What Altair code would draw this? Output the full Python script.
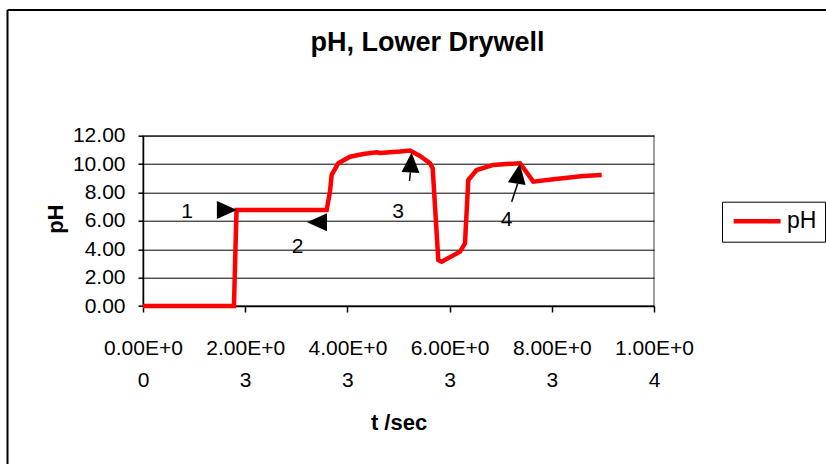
import altair as alt
import pandas as pd

# ---- data ----
t_sec = [0, 1780, 1830, 2500, 3000, 3594, 3659, 3692, 3822, 4051, 4312, 4573,
         4638, 5029, 5225, 5421, 5616, 5669, 5779, 5845, 6204, 6301, 6366,
         6530, 6855, 7378, 7638, 8030, 8617, 8977]
ph_vals = [0.0, 0.0, 6.76, 6.76, 6.76, 6.76, 8.05, 9.23, 10.06, 10.52, 10.71, 10.83,
           10.78, 10.88, 10.95, 10.57, 10.06, 9.70, 3.24, 3.12, 3.83, 4.42, 8.88,
           9.58, 9.94, 10.06, 8.76, 8.93, 9.16, 9.23]

# arrow heads (midpoint between tip and base) and their direction
arrow_t = [1642, 3405, 5245, 7344]
arrow_ph = [6.77, 5.90, 10.11, 9.32]
arrow_angle = [90, 270, 3, 9]

# arrow tails
tail_t1 = [5232, 7331]
tail_ph1 = [9.41, 8.61]
tail_t2 = [5215, 7215]
tail_ph2 = [8.81, 7.35]

# marker numbers
num_text = ["1", "2", "3", "4"]
num_t = [861, 3027, 4990, 7117]
num_ph = [6.62, 4.18, 6.65, 6.06]

x_ticks = [0, 2000, 4000, 6000, 8000, 10000]
x_line1 = ["0.00E+0", "2.00E+0", "4.00E+0", "6.00E+0", "8.00E+0", "1.00E+0"]
x_line2 = ["0", "3", "3", "3", "3", "4"]
y_ticks = [0, 2, 4, 6, 8, 10, 12]

FONT = "Liberation Sans"

df_line = pd.DataFrame({"t": t_sec, "ph": ph_vals, "series": "pH"})
df_arrow = pd.DataFrame({"t": arrow_t, "ph": arrow_ph, "angle": arrow_angle})
df_tail = pd.DataFrame({"t1": tail_t1, "p1": tail_ph1, "t2": tail_t2, "p2": tail_ph2})
df_num = pd.DataFrame({"t": num_t, "ph": num_ph, "txt": num_text})

label_expr = " : ".join(
    f"datum.value == {v} ? '{a}|{b}'" for v, a, b in zip(x_ticks, x_line1, x_line2)
) + " : ''"
label_expr = f"split({label_expr}, '|')"

xscale = alt.Scale(domain=[0, 10000], nice=False, zero=False)
yscale = alt.Scale(domain=[0, 12], nice=False)

x_axis = alt.Axis(
    values=x_ticks, tickCount=len(x_ticks), labelExpr=label_expr, title="t /sec",
    grid=False, labelFontSize=21, labelLineHeight=32, labelPadding=25, tickSize=6,
    titleFontSize=22, titleFontWeight="bold", titleY=116, titleBaseline="middle",
    domainColor="black", tickColor="black", domainWidth=1.5, tickWidth=1.5,
    labelColor="black", titleColor="black", labelFlush=False, labelOverlap=False,
)
y_axis = alt.Axis(
    values=y_ticks, tickCount=len(y_ticks), format=".2f", title="pH", grid=True,
    gridColor="black", gridWidth=1, labelFontSize=21, labelPadding=13, tickSize=5,
    labelOverlap=False, labelFlush=False, labelBound=False,
    titleFontSize=22, titleFontWeight="bold", titleX=-88, titleY=83,
    titleAngle=270, titleAlign="center", titleBaseline="middle",
    domainColor="black", tickColor="black", domainWidth=1.5, tickWidth=1.5,
    labelColor="black", titleColor="black", labelBaseline="middle",
)

line = alt.Chart(df_line).mark_line(strokeWidth=4.5).encode(
    x=alt.X("t:Q", scale=xscale, axis=x_axis),
    y=alt.Y("ph:Q", scale=yscale, axis=y_axis),
    color=alt.Color(
        "series:N", scale=alt.Scale(range=["#FF0000"]),
        legend=alt.Legend(
            title=None, orient="none", legendX=579, legendY=66,
            strokeColor="black", fillColor="white", padding=8,
            symbolType="M-1,0L5,0", symbolSize=245, symbolStrokeWidth=4.5,
            labelFontSize=23, labelOffset=34, labelFont=FONT, labelColor="black",
        ),
    ),
)

tails = alt.Chart(df_tail).mark_rule(color="black", strokeWidth=1.5).encode(
    x=alt.X("t1:Q", scale=xscale, axis=x_axis), y=alt.Y("p1:Q", scale=yscale, axis=y_axis),
    x2="t2:Q", y2="p2:Q",
)

heads = alt.Chart(df_arrow).mark_point(
    shape="M0,-1L-0.9,1L0.9,1Z", filled=True, color="black", size=400, opacity=1,
).encode(
    x=alt.X("t:Q", scale=xscale, axis=x_axis), y=alt.Y("ph:Q", scale=yscale, axis=y_axis),
    angle=alt.Angle("angle:Q", scale=None),
)

nums = alt.Chart(df_num).mark_text(fontSize=21, font=FONT, color="black").encode(
    x=alt.X("t:Q", scale=xscale, axis=x_axis), y=alt.Y("ph:Q", scale=yscale, axis=y_axis),
    text="txt:N",
)

frame_df = pd.DataFrame({"k": [0]})
frame_top = alt.Chart(frame_df).mark_rule(color="black", strokeWidth=2).encode(
    x=alt.value(-135.5), x2=alt.value(720), y=alt.value(-125.7),
)
frame_left = alt.Chart(frame_df).mark_rule(color="black", strokeWidth=2).encode(
    x=alt.value(-135.5), y=alt.value(-125.7), y2=alt.value(360),
)

chart = alt.layer(line, tails, heads, nums, frame_top, frame_left).properties(
    width=511, height=170.3,
    autosize=alt.AutoSizeParams(type="none"),
    padding={"left": 143, "top": 135.7, "right": 172, "bottom": 158},
    title=alt.Title(
        "pH, Lower Drywell", fontSize=27, fontWeight="bold", font=FONT,
        anchor="middle", dx=29, offset=0, dy=69, baseline="alphabetic", color="black",
    ),
).configure(
    font=FONT, background="white",
).configure_view(
    stroke="#808080", strokeWidth=1.5,
).configure_axis(
    labelFont=FONT, titleFont=FONT,
)

chart.save("out.html", embed_options={"renderer": "svg", "actions": False})
